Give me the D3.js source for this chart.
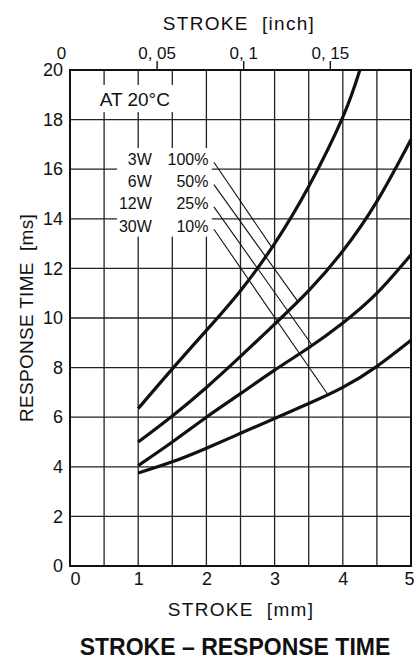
<!DOCTYPE html>
<html><head><meta charset="utf-8">
<script src="https://cdn.jsdelivr.net/npm/d3@7"></script>
<style>
html,body{margin:0;padding:0;background:#fff;}
svg{display:block;font-family:"Liberation Sans",Arial,sans-serif;}
</style>
</head><body>
<svg id="chart" width="414" height="659"></svg>
<script>
// ---- data ----
const powerLabels = ["3W", "6W", "12W", "30W"];
const dutyLabels = ["100%", "50%", "25%", "10%"];
const stroke3W = [1, 1.5, 2, 2.5, 3, 3.5, 4, 4.25];
const time3W = [6.35, 7.95, 9.5, 11.1, 13.0, 15.3, 18.1, 20.0];
const strokeMm = [1, 1.5, 2, 2.5, 3, 3.5, 4, 4.5, 5];
const time6W = [5.0, 6.05, 7.2, 8.45, 9.75, 11.1, 12.7, 14.7, 17.2];
const time12W = [4.05, 5.0, 6.0, 6.95, 7.9, 8.8, 9.8, 11.0, 12.55];
const time30W = [3.75, 4.2, 4.75, 5.35, 5.95, 6.55, 7.2, 8.05, 9.1];
const leaderEndStroke = [2.96, 3.34, 3.55, 3.78];
const labelRowTime = [16.4, 15.5, 14.6, 13.7];
const xTicksMm = [0, 1, 2, 3, 4, 5];
const xGridMm = [0, 0.5, 1, 1.5, 2, 2.5, 3, 3.5, 4, 4.5, 5];
const xTicksInch = [0, 0.05, 0.1, 0.15];
const xTickInchLabels = ["0", "0, 05", "0, 1", "0, 15"];
const yTicks = [0, 2, 4, 6, 8, 10, 12, 14, 16, 18, 20];
const titleText = "STROKE – RESPONSE TIME";
const noteText = "AT 20°C";

const series = [
  {xs: stroke3W, ys: time3W},
  {xs: strokeMm, ys: time6W},
  {xs: strokeMm, ys: time12W},
  {xs: strokeMm, ys: time30W}
];

// ---- layout ----
const W = 414, H = 659;
const m = {left: 70, right: 3, top: 70, bottom: 93};
const svg = d3.select("#chart");
const x = d3.scaleLinear().domain([0, 5]).range([m.left, W - m.right]);
const y = d3.scaleLinear().domain([0, 20]).range([H - m.bottom, m.top]);
const xInch = d3.scaleLinear().domain([0, 5 / 25.4]).range([m.left, W - m.right]);
const ink = "#111";

// grid
const g = svg.append("g");
g.selectAll("line.v").data(xGridMm).join("line")
  .attr("x1", d => x(d)).attr("x2", d => x(d))
  .attr("y1", y(0)).attr("y2", y(20))
  .attr("stroke", "#222").attr("stroke-width", 1.3);
g.selectAll("line.h").data(yTicks).join("line")
  .attr("x1", x(0)).attr("x2", x(5))
  .attr("y1", d => y(d)).attr("y2", d => y(d))
  .attr("stroke", "#222").attr("stroke-width", 1.3);

// white backing boxes behind the in-plot labels
svg.append("rect")
  .attr("x", x(0.37)).attr("y", y(19.4))
  .attr("width", x(1.7) - x(0.37)).attr("height", y(18.3) - y(19.4))
  .attr("fill", "#fff");
svg.append("rect")
  .attr("x", x(0.69)).attr("y", y(16.85))
  .attr("width", x(2.08) - x(0.69)).attr("height", y(13.28) - y(16.85))
  .attr("fill", "#fff");

// frame
svg.append("rect")
  .attr("x", x(0)).attr("y", y(20))
  .attr("width", x(5) - x(0)).attr("height", y(0) - y(20))
  .attr("fill", "none").attr("stroke", ink).attr("stroke-width", 2);

// curves
const line = d3.line().curve(d3.curveNatural)
  .x(d => x(d[0])).y(d => y(d[1]));
svg.append("g").selectAll("path").data(series).join("path")
  .attr("d", s => line(s.xs.map((v, i) => [v, s.ys[i]])))
  .attr("fill", "none").attr("stroke", ink).attr("stroke-width", 3.2)
  .attr("stroke-linecap", "butt");

// leader lines
function interp(xs, ys, xv) {
  const i = Math.max(1, Math.min(xs.length - 1, d3.bisectLeft(xs, xv)));
  const t = (xv - xs[i - 1]) / (xs[i] - xs[i - 1]);
  return ys[i - 1] + t * (ys[i] - ys[i - 1]);
}
svg.append("g").selectAll("line").data(series).join("line")
  .attr("x1", x(2.11)).attr("y1", (s, i) => y(labelRowTime[i]) + 3)
  .attr("x2", (s, i) => x(leaderEndStroke[i]))
  .attr("y2", (s, i) => y(interp(s.xs, s.ys, leaderEndStroke[i])))
  .attr("stroke", ink).attr("stroke-width", 1.1);

// series labels
const lab = svg.append("g").attr("font-size", 16).attr("fill", ink);
lab.selectAll("text.p").data(powerLabels).join("text")
  .attr("x", x(1.2)).attr("y", (d, i) => y(labelRowTime[i]) + 5.5)
  .attr("text-anchor", "end").text(d => d);
lab.selectAll("text.d").data(dutyLabels).join("text")
  .attr("x", x(2.03)).attr("y", (d, i) => y(labelRowTime[i]) + 5.5)
  .attr("text-anchor", "end").text(d => d);

// note
svg.append("text").attr("x", x(0.95)).attr("y", y(18.85) + 7)
  .attr("text-anchor", "middle").attr("font-size", 19).attr("fill", ink)
  .text(noteText);

// bottom axis
const axB = svg.append("g").attr("transform", `translate(0,${y(0)})`)
  .call(d3.axisBottom(x).tickValues(xTicksMm).tickSize(0).tickPadding(0).tickFormat(d3.format("d")));
axB.select(".domain").remove();
axB.selectAll("text").attr("font-size", 18).attr("fill", ink)
  .attr("font-family", "Liberation Sans, Arial, sans-serif")
  .attr("dy", null).attr("y", 19)
  .attr("dx", d => d === 0 ? 5 : (d === 5 ? -2 : 0));

// left axis
const axL = svg.append("g").attr("transform", `translate(${x(0)},0)`)
  .call(d3.axisLeft(y).tickValues(yTicks).tickSize(0).tickPadding(7).tickFormat(d3.format("d")));
axL.select(".domain").remove();
axL.selectAll("text").attr("font-size", 18).attr("fill", ink)
  .attr("font-family", "Liberation Sans, Arial, sans-serif");

// top axis (inch)
const axT = svg.append("g").attr("transform", `translate(0,${y(20)})`)
  .call(d3.axisTop(xInch).tickValues(xTicksInch).tickSize(9).tickPadding(2)
    .tickFormat((d, i) => xTickInchLabels[i]));
axT.select(".domain").remove();
axT.selectAll(".tick line").attr("stroke", ink).attr("stroke-width", 1.4)
  .attr("display", d => d === 0 ? "none" : null);
axT.selectAll("text").attr("font-size", 17).attr("fill", ink)
  .attr("font-family", "Liberation Sans, Arial, sans-serif")
  .attr("dx", d => d === 0 ? -9 : 0);

// axis titles
svg.append("text").attr("x", 239).attr("y", 30)
  .attr("text-anchor", "middle").attr("font-size", 19).attr("fill", ink)
  .attr("letter-spacing", 1.3).style("white-space", "pre")
  .text("STROKE  [inch]");
svg.append("text").attr("x", 241).attr("y", 616)
  .attr("text-anchor", "middle").attr("font-size", 19).attr("fill", ink)
  .attr("letter-spacing", 1.3).style("white-space", "pre")
  .text("STROKE  [mm]");
svg.append("text")
  .attr("transform", `translate(33,${(y(0) + y(20)) / 2}) rotate(-90)`)
  .attr("text-anchor", "middle").attr("font-size", 19).attr("fill", ink)
  .attr("letter-spacing", 0.3).style("white-space", "pre")
  .text("RESPONSE TIME  [ms]");
svg.append("text").attr("x", 235).attr("y", 655)
  .attr("text-anchor", "middle").attr("font-size", 23).attr("font-weight", "bold")
  .attr("fill", ink).text(titleText);
</script>
</body></html>
